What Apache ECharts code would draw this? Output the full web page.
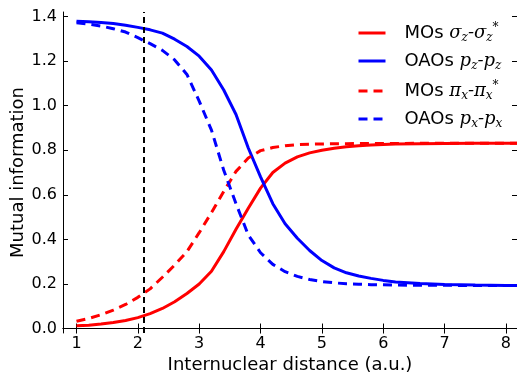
<!DOCTYPE html>
<html>
<head>
<meta charset="utf-8">
<script src="https://cdn.jsdelivr.net/npm/echarts@6/dist/echarts.min.js"></script>
<style>html,body{margin:0;padding:0;background:#fff;}#c{width:517px;height:373px;}</style>
</head>
<body>
<div id="c"></div>
<script>
var xs = [1.0,1.2,1.4,1.6,1.8,2.0,2.2,2.4,2.6,2.8,3.0,3.2,3.4,3.6,3.8,4.0,4.2,4.4,4.6,4.8,5.0,5.2,5.4,5.6,5.8,6.0,6.2,6.6,7.0,7.5,8.0,8.2];
var moSigma = [0.012,0.015,0.020,0.027,0.036,0.049,0.067,0.090,0.120,0.157,0.200,0.257,0.345,0.445,0.540,0.630,0.700,0.742,0.770,0.788,0.800,0.809,0.815,0.820,0.823,0.826,0.828,0.829,0.830,0.831,0.831,0.831];
var oaoPz = [1.378,1.376,1.373,1.368,1.361,1.351,1.340,1.325,1.298,1.265,1.222,1.160,1.070,0.960,0.810,0.680,0.560,0.470,0.405,0.350,0.305,0.272,0.250,0.236,0.225,0.216,0.209,0.202,0.198,0.195,0.193,0.193];
var moPi = [0.033,0.045,0.062,0.083,0.108,0.140,0.178,0.230,0.285,0.345,0.430,0.520,0.615,0.705,0.765,0.798,0.812,0.820,0.825,0.827,0.828,0.829,0.829,0.830,0.830,0.830,0.830,0.831,0.831,0.831,0.831,0.831];
var oaoPx = [1.372,1.366,1.357,1.345,1.330,1.305,1.278,1.248,1.205,1.140,1.020,0.890,0.710,0.560,0.420,0.340,0.288,0.255,0.234,0.220,0.211,0.205,0.201,0.199,0.197,0.196,0.195,0.194,0.194,0.193,0.193,0.193];
var xTicks = [1,2,3,4,5,6,7,8];
var yTicks = [0,0.2,0.4,0.6,0.8,1.0,1.2,1.4];
var vLineX = 2.1;
var names = ['MOs sz', 'OAOs pz', 'MOs px', 'OAOs ppx'];
var legendRich = {
  'MOs sz': '{t|MOs }{m|σ}{sb|z}{m|-σ}{sb|z}{sp|*}',
  'OAOs pz': '{t|OAOs }{m|p}{sb|z}{m|-p}{sb|z}',
  'MOs px': '{t|MOs }{m|π}{sb|x}{m|-π}{sb|x}{sp|*}',
  'OAOs ppx': '{t|OAOs }{m|p}{sb|x}{m|-p}{sb|x}'
};
function pairs(ys){ return xs.map(function(x,i){ return [x, ys[i]]; }); }
var chart = echarts.init(document.getElementById('c'), null, {renderer:'canvas'});
var font = 'DejaVu Sans';
var mathFont = 'DejaVu Serif';
function line(name, ys, color, dashed, extra){
  var s = {
    name: name, type: 'line', data: pairs(ys), symbol: 'none', showSymbol: false,
    smooth: false, animation: false, clip: true,
    lineStyle: {color: color, width: 3, type: dashed ? [9,6] : 'solid'},
    itemStyle: {color: color}
  };
  if (extra) for (var k in extra) s[k] = extra[k];
  return s;
}
var axisLineStyle = {show: true, lineStyle: {color: '#000', width: 1}};
chart.setOption({
  animation: false,
  backgroundColor: '#fff',
  textStyle: {fontFamily: font},
  grid: {left: 63, right: 0, top: 12, bottom: 40, containLabel: false, outerBoundsMode: 'none'},
  xAxis: [{
    type: 'value', min: 0.78, max: 8.18, position: 'bottom',
    axisLine: axisLineStyle,
    axisTick: {show: true, inside: true, length: 5, customValues: xTicks, lineStyle: {color: '#000'}},
    axisLabel: {show: true, customValues: xTicks, fontSize: 16, color: '#000', margin: 3, fontFamily: font},
    splitLine: {show: false},
    name: 'Internuclear distance (a.u.)', nameLocation: 'middle', nameGap: 23, nameMoveOverlap: false,
    nameTextStyle: {fontSize: 18, color: '#000', fontFamily: font}
  }, {
    type: 'value', min: 0.78, max: 8.18, position: 'top',
    axisLine: axisLineStyle,
    axisTick: {show: true, inside: true, length: 5, customValues: xTicks, lineStyle: {color: '#000'}},
    axisLabel: {show: false}, splitLine: {show: false}
  }],
  yAxis: [{
    type: 'value', min: -0.02, max: 1.42, position: 'left',
    axisLine: axisLineStyle,
    axisTick: {show: true, inside: true, length: 5, customValues: yTicks, lineStyle: {color: '#000'}},
    axisLabel: {show: true, customValues: yTicks, fontSize: 16, color: '#000', margin: 6, fontFamily: font,
      formatter: function(v){ return (+v).toFixed(1); }},
    splitLine: {show: false},
    name: 'Mutual information', nameLocation: 'middle', nameGap: 36, nameRotate: 90, nameMoveOverlap: false,
    nameTextStyle: {fontSize: 18, color: '#000', fontFamily: font}
  }, {
    type: 'value', min: -0.02, max: 1.42, position: 'right',
    axisLine: axisLineStyle,
    axisTick: {show: true, inside: true, length: 5, customValues: yTicks, lineStyle: {color: '#000'}},
    axisLabel: {show: false}, splitLine: {show: false}
  }],
  legend: {
    orient: 'vertical', left: 357, top: 22, padding: 0, itemWidth: 27, itemHeight: 14, itemGap: 8,
    data: names.map(function(n){ return {name: n, itemStyle: {opacity: 0}}; }),
    lineStyle: {width: 3},
    formatter: function(n){ return legendRich[n]; },
    textStyle: {
      fontSize: 18, color: '#000', fontFamily: font, padding: [0,0,0,14],
      rich: {
        t: {fontSize: 18, fontFamily: font, color: '#000', lineHeight: 22},
        m: {fontSize: 18, fontFamily: mathFont, fontStyle: 'italic', color: '#000', lineHeight: 22},
        sb: {fontSize: 12, fontFamily: mathFont, fontStyle: 'italic', color: '#000', lineHeight: 22, verticalAlign: 'bottom'},
        sp: {fontSize: 12, fontFamily: mathFont, color: '#000', lineHeight: 22, verticalAlign: 'top'}
      }
    }
  },
  series: [
    line(names[0], moSigma, '#ff0000', false, {
      markLine: {silent: true, symbol: ['none','none'], animation: false,
        label: {show: false},
        lineStyle: {color: '#000', width: 2, type: [6,4]},
        data: [{xAxis: vLineX}]}
    }),
    line(names[1], oaoPz, '#0000ff', false),
    line(names[2], moPi, '#ff0000', true),
    line(names[3], oaoPx, '#0000ff', true)
  ]
});
</script>
</body>
</html>
